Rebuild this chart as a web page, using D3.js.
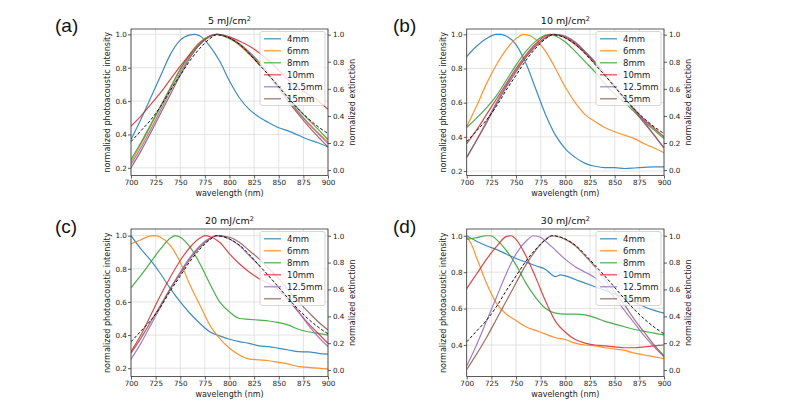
<!DOCTYPE html>
<html><head><meta charset="utf-8">
<script src="https://cdn.jsdelivr.net/npm/d3@7"></script>
<style>body{margin:0;background:#fff}svg{display:block}</style>
</head><body>
<svg id="chart" width="787" height="413"></svg>
<script>
// ---------- data ----------
const seriesNames = ["4mm","6mm","8mm","10mm","12.5mm","15mm"];
const seriesColors = ["#1f77b4","#ff7f0e","#2ca02c","#d62728","#9467bd","#8c564b"];
const xTicks = [700,725,750,775,800,825,850,875,900];
const leftTicksABC = [0.2,0.4,0.6,0.8,1.0];
const leftTicksD = [0.4,0.6,0.8,1.0];
const rightTicks = [0.0,0.2,0.4,0.6,0.8,1.0];
const fluences = ["5","10","20","30"];
const panelLabels = ["(a)","(b)","(c)","(d)"];

// normalized extinction (right axis), same in every panel
const extinction = [[700,0.21],[710,0.29],[720,0.37],[730,0.47],[740,0.59],[750,0.70],[760,0.81],[770,0.90],[780,0.97],[787,1.0],[795,0.99],[800,0.975],[810,0.93],[820,0.86],[830,0.78],[840,0.70],[850,0.615],[860,0.53],[870,0.45],[880,0.38],[890,0.32],[900,0.27]];

// (a) 5 mJ/cm2
const a_4mm = [[700,0.37],[710,0.49],[720,0.62],[730,0.75],[740,0.88],[750,0.965],[760,0.997],[765,1.0],[770,0.99],[780,0.93],[790,0.84],[800,0.72],[810,0.62],[820,0.55],[830,0.505],[840,0.47],[850,0.44],[860,0.42],[870,0.395],[880,0.37],[890,0.35],[900,0.325]];
const a_6mm = [[700,0.235],[710,0.34],[720,0.45],[730,0.565],[740,0.68],[750,0.79],[760,0.885],[770,0.955],[780,0.99],[787,1.0],[800,0.975],[810,0.935],[820,0.88],[830,0.82],[840,0.75],[850,0.675],[860,0.6],[870,0.53],[880,0.47],[890,0.41],[900,0.355]];
const a_8mm = [[700,0.25],[710,0.35],[720,0.46],[730,0.57],[740,0.68],[750,0.79],[760,0.88],[770,0.95],[780,0.99],[787,1.0],[800,0.975],[810,0.94],[820,0.89],[830,0.83],[840,0.76],[850,0.69],[860,0.62],[870,0.55],[880,0.49],[890,0.43],[900,0.37]];
const a_10mm = [[700,0.45],[710,0.51],[720,0.58],[730,0.65],[740,0.73],[750,0.81],[760,0.88],[770,0.94],[780,0.99],[787,1.0],[800,0.985],[810,0.96],[820,0.93],[830,0.89],[840,0.84],[850,0.785],[860,0.725],[870,0.68],[880,0.64],[890,0.6],[900,0.55]];
const a_12_5mm = [[700,0.22],[710,0.32],[720,0.43],[730,0.545],[740,0.66],[750,0.77],[760,0.87],[770,0.945],[780,0.99],[787,1.0],[800,0.98],[810,0.945],[820,0.895],[830,0.835],[840,0.765],[850,0.69],[860,0.61],[870,0.535],[880,0.465],[890,0.405],[900,0.345]];
const a_15mm = [[700,0.20],[710,0.30],[720,0.41],[730,0.525],[740,0.64],[750,0.755],[760,0.86],[770,0.94],[780,0.985],[787,1.0],[800,0.98],[810,0.94],[820,0.885],[830,0.82],[840,0.75],[850,0.675],[860,0.595],[870,0.52],[880,0.45],[890,0.385],[900,0.325]];

// (b) 10 mJ/cm2
const b_4mm = [[700,0.87],[710,0.93],[720,0.975],[730,1.0],[735,1.0],[740,0.99],[750,0.94],[760,0.83],[770,0.68],[780,0.53],[790,0.41],[800,0.33],[810,0.28],[820,0.245],[830,0.228],[840,0.22],[850,0.22],[860,0.215],[870,0.218],[880,0.222],[890,0.225],[900,0.225]];
const b_6mm = [[700,0.46],[710,0.58],[720,0.71],[730,0.82],[740,0.91],[750,0.975],[758,1.0],[765,0.99],[770,0.97],[780,0.9],[790,0.8],[800,0.69],[810,0.6],[820,0.53],[830,0.49],[840,0.455],[850,0.43],[860,0.41],[870,0.39],[880,0.36],[890,0.335],[900,0.307]];
const b_8mm = [[700,0.455],[710,0.51],[720,0.57],[730,0.64],[740,0.73],[750,0.82],[760,0.9],[770,0.96],[780,0.995],[785,1.0],[790,0.99],[800,0.955],[810,0.9],[820,0.84],[830,0.78],[840,0.71],[850,0.65],[860,0.6],[870,0.545],[880,0.49],[890,0.44],[900,0.39]];
const b_10mm = [[700,0.36],[710,0.44],[720,0.53],[730,0.62],[740,0.71],[750,0.8],[760,0.88],[770,0.945],[780,0.99],[787,1.0],[800,0.98],[810,0.94],[820,0.89],[830,0.83],[840,0.76],[850,0.69],[860,0.62],[870,0.56],[880,0.5],[890,0.45],[900,0.40]];
const b_12_5mm = [[700,0.28],[710,0.38],[720,0.49],[730,0.6],[740,0.7],[750,0.79],[760,0.87],[770,0.935],[780,0.98],[790,1.0],[800,0.99],[810,0.955],[820,0.9],[830,0.84],[840,0.77],[850,0.7],[860,0.63],[870,0.56],[880,0.49],[890,0.41],[900,0.335]];
const b_15mm = [[700,0.28],[710,0.38],[720,0.48],[730,0.59],[740,0.69],[750,0.78],[760,0.865],[770,0.93],[780,0.98],[788,1.0],[800,0.985],[810,0.95],[820,0.895],[830,0.835],[840,0.765],[850,0.695],[860,0.625],[870,0.555],[880,0.48],[890,0.41],[900,0.335]];

// (c) 20 mJ/cm2
const c_4mm = [[700,1.0],[710,0.92],[720,0.85],[730,0.77],[740,0.68],[750,0.6],[760,0.53],[770,0.47],[780,0.42],[790,0.395],[800,0.375],[810,0.36],[820,0.35],[830,0.335],[840,0.33],[850,0.32],[860,0.31],[870,0.3],[880,0.298],[890,0.29],[900,0.285]];
const c_6mm = [[700,0.95],[710,0.975],[720,0.998],[725,1.0],[730,0.99],[740,0.94],[750,0.84],[760,0.7],[770,0.58],[780,0.46],[790,0.38],[800,0.32],[810,0.28],[820,0.255],[830,0.25],[840,0.245],[850,0.235],[860,0.225],[870,0.21],[880,0.205],[890,0.2],[900,0.195]];
const c_8mm = [[700,0.685],[710,0.76],[720,0.84],[730,0.92],[740,0.985],[745,1.0],[750,0.99],[760,0.93],[770,0.83],[780,0.71],[790,0.6],[800,0.54],[810,0.5],[820,0.495],[830,0.49],[840,0.485],[850,0.475],[860,0.46],[870,0.435],[880,0.42],[890,0.41],[900,0.40]];
const c_10mm = [[700,0.30],[710,0.40],[720,0.52],[730,0.64],[740,0.75],[750,0.85],[760,0.93],[770,0.985],[775,1.0],[780,0.995],[790,0.96],[800,0.89],[810,0.83],[820,0.78],[830,0.74],[840,0.71],[850,0.67],[860,0.61],[870,0.54],[880,0.47],[890,0.41],[900,0.35]];
const c_12_5mm = [[700,0.255],[710,0.35],[720,0.46],[730,0.57],[740,0.68],[750,0.78],[760,0.87],[770,0.94],[780,0.985],[787,1.0],[800,0.98],[810,0.94],[820,0.88],[830,0.82],[840,0.75],[850,0.69],[860,0.61],[870,0.54],[880,0.46],[890,0.39],[900,0.33]];
const c_15mm = [[700,0.29],[710,0.38],[720,0.48],[730,0.58],[740,0.68],[750,0.77],[760,0.86],[770,0.93],[780,0.98],[787,1.0],[800,0.99],[810,0.96],[820,0.91],[830,0.86],[840,0.8],[850,0.74],[860,0.67],[870,0.6],[880,0.54],[890,0.48],[900,0.43]];

// (d) 30 mJ/cm2
const d_4mm = [[700,1.0],[710,0.97],[720,0.945],[730,0.925],[740,0.9],[750,0.875],[760,0.855],[770,0.835],[780,0.815],[790,0.775],[795,0.785],[800,0.78],[810,0.76],[820,0.74],[830,0.72],[840,0.7],[850,0.68],[860,0.66],[870,0.635],[880,0.61],[890,0.59],[900,0.575]];
const d_6mm = [[700,0.995],[705,0.95],[710,0.88],[720,0.74],[730,0.63],[740,0.57],[750,0.535],[760,0.5],[770,0.48],[780,0.46],[790,0.44],[800,0.43],[810,0.41],[820,0.40],[830,0.395],[840,0.385],[850,0.378],[860,0.37],[870,0.355],[880,0.345],[890,0.335],[900,0.325]];
const d_8mm = [[700,0.98],[710,0.99],[720,1.0],[725,1.0],[730,0.98],[740,0.92],[750,0.84],[760,0.74],[770,0.66],[780,0.6],[790,0.575],[800,0.57],[810,0.57],[820,0.565],[830,0.55],[840,0.53],[850,0.515],[860,0.5],[870,0.485],[880,0.475],[890,0.465],[900,0.455]];
const d_10mm = [[700,0.71],[710,0.79],[720,0.87],[730,0.94],[740,0.995],[745,1.0],[750,0.98],[760,0.89],[770,0.77],[780,0.64],[790,0.53],[800,0.47],[810,0.43],[820,0.41],[830,0.4],[840,0.395],[850,0.39],[860,0.385],[870,0.385],[880,0.39],[890,0.395],[900,0.40]];
const d_12_5mm = [[700,0.285],[710,0.4],[720,0.53],[730,0.66],[740,0.79],[750,0.9],[760,0.97],[768,1.0],[775,0.99],[780,0.97],[790,0.92],[800,0.87],[810,0.83],[820,0.8],[830,0.77],[840,0.72],[850,0.66],[860,0.59],[870,0.52],[880,0.45],[890,0.39],[900,0.335]];
const d_15mm = [[700,0.265],[710,0.35],[720,0.44],[730,0.54],[740,0.64],[750,0.74],[760,0.84],[770,0.92],[780,0.98],[786,1.0],[800,0.98],[810,0.945],[820,0.89],[830,0.83],[840,0.76],[850,0.69],[860,0.62],[870,0.54],[880,0.47],[890,0.4],[900,0.34]];

const panelSeries = [
  [a_4mm,a_6mm,a_8mm,a_10mm,a_12_5mm,a_15mm],
  [b_4mm,b_6mm,b_8mm,b_10mm,b_12_5mm,b_15mm],
  [c_4mm,c_6mm,c_8mm,c_10mm,c_12_5mm,c_15mm],
  [d_4mm,d_6mm,d_8mm,d_10mm,d_12_5mm,d_15mm]
];

// ---------- layout ----------
const layout = [
  {left:131, right:328, top:29, bottom:175.5, yDom:[0.154,1.032], y2Dom:[-0.04,1.042], yTicks:leftTicksABC, lx:55, ly:31.5},
  {left:466.7, right:664, top:29, bottom:175.5, yDom:[0.174,1.031], y2Dom:[-0.04,1.042], yTicks:leftTicksABC, lx:393, ly:31.5},
  {left:131, right:328, top:229, bottom:376.5, yDom:[0.15,1.04], y2Dom:[-0.048,1.05], yTicks:leftTicksABC, lx:55, ly:233},
  {left:466.7, right:664, top:229, bottom:376.5, yDom:[0.227,1.037], y2Dom:[-0.048,1.05], yTicks:leftTicksD, lx:393, ly:233}
];

const svg = d3.select("#chart");
const FONT = "DejaVu Sans, sans-serif";
const fmt = d3.format(".1f");

layout.forEach((p, pi) => {
  const x = d3.scaleLinear().domain([700,900]).range([p.left,p.right]);
  const y = d3.scaleLinear().domain(p.yDom).range([p.bottom,p.top]);
  const y2 = d3.scaleLinear().domain(p.y2Dom).range([p.bottom,p.top]);
  const g = svg.append("g");
  const clipId = "clip"+pi;
  svg.append("clipPath").attr("id",clipId).append("rect")
    .attr("x",p.left).attr("y",p.top).attr("width",p.right-p.left).attr("height",p.bottom-p.top);

  // grid
  g.append("g").selectAll("line").data(xTicks).join("line")
    .attr("x1",d=>x(d)).attr("x2",d=>x(d)).attr("y1",p.top).attr("y2",p.bottom)
    .attr("stroke","#dcdcdc").attr("stroke-width",0.8);
  g.append("g").selectAll("line").data(p.yTicks).join("line")
    .attr("x1",p.left).attr("x2",p.right).attr("y1",d=>y(d)).attr("y2",d=>y(d))
    .attr("stroke","#dcdcdc").attr("stroke-width",0.8);

  // series
  const line = d3.line().x(d=>x(d[0])).y(d=>y(d[1])).curve(d3.curveMonotoneX);
  g.append("g").attr("clip-path",`url(#${clipId})`)
    .selectAll("path").data(panelSeries[pi]).join("path")
    .attr("d",line).attr("fill","none")
    .attr("stroke",(d,i)=>seriesColors[i]).attr("stroke-width",1.2).attr("stroke-opacity",0.85);

  // legend
  const lw = 65, lh = 74;
  const lxb = p.right - 3 - lw, lyb = p.top + 2.5;
  const lg = g.append("g");
  lg.append("rect").attr("x",lxb).attr("y",lyb).attr("width",lw).attr("height",lh).attr("rx",2)
    .attr("fill","white").attr("fill-opacity",0.8).attr("stroke","#cccccc").attr("stroke-width",0.8);
  const items = lg.selectAll("g.item").data(seriesNames).join("g")
    .attr("transform",(d,i)=>`translate(${lxb},${lyb+7.3+i*12})`);
  items.append("line").attr("x1",4).attr("x2",21).attr("y1",0).attr("y2",0)
    .attr("stroke",(d,i)=>seriesColors[i]).attr("stroke-width",1.2).attr("stroke-opacity",0.85);
  items.append("text").attr("x",27).attr("dy","0.35em").text(d=>d)
    .attr("font-family",FONT).attr("font-size","8.5px").attr("fill","#222");

  // extinction (twin axis, on top)
  const line2 = d3.line().x(d=>x(d[0])).y(d=>y2(d[1])).curve(d3.curveMonotoneX);
  g.append("path").datum(extinction).attr("clip-path",`url(#${clipId})`)
    .attr("d",line2).attr("fill","none").attr("stroke","#111").attr("stroke-width",1)
    .attr("stroke-dasharray","3,2");

  // frame
  g.append("rect").attr("x",p.left).attr("y",p.top).attr("width",p.right-p.left).attr("height",p.bottom-p.top)
    .attr("fill","none").attr("stroke","#333").attr("stroke-width",0.8);

  // axes
  const styleAxis = sel => {
    sel.select(".domain").remove();
    sel.selectAll(".tick line").attr("stroke","#333").attr("stroke-width",0.8);
    sel.selectAll(".tick text").attr("font-family",FONT).attr("font-size","7.2px").attr("fill","#222");
  };
  g.append("g").attr("transform",`translate(0,${p.bottom})`)
    .call(d3.axisBottom(x).tickValues(xTicks).tickSize(3).tickPadding(1.5).tickFormat(d3.format("d")))
    .call(styleAxis);
  g.append("g").attr("transform",`translate(${p.left},0)`)
    .call(d3.axisLeft(y).tickValues(p.yTicks).tickSize(3).tickPadding(1.2).tickFormat(fmt))
    .call(styleAxis);
  g.append("g").attr("transform",`translate(${p.right},0)`)
    .call(d3.axisRight(y2).tickValues(rightTicks).tickSize(3).tickPadding(2).tickFormat(fmt))
    .call(styleAxis);

  // labels
  const midY = (p.top+p.bottom)/2, midX = (p.left+p.right)/2;
  g.append("text").attr("x",midX).attr("y",p.bottom+20.5).attr("text-anchor","middle")
    .attr("font-family",FONT).attr("font-size","8px").attr("fill","#222").text("wavelength (nm)");
  g.append("text").attr("transform",`translate(${p.left-24},${midY}) rotate(-90)`).attr("dy","0.35em")
    .attr("text-anchor","middle").attr("font-family",FONT).attr("font-size","8px").attr("fill","#222")
    .text("normalized photoacoustic intensity");
  g.append("text").attr("transform",`translate(${p.right+24},${midY}) rotate(-90)`).attr("dy","0.35em")
    .attr("text-anchor","middle").attr("font-family",FONT).attr("font-size","8px").attr("fill","#222")
    .text("normalized extinction");
  const t = g.append("text").attr("x",midX).attr("y",p.top-5).attr("text-anchor","middle")
    .attr("font-family",FONT).attr("font-size","9.5px").attr("fill","#111");
  t.append("tspan").text(fluences[pi]+" mJ/cm");
  t.append("tspan").attr("font-size","6.5px").attr("dy","-3.5").text("2");

  // panel label
  svg.append("text").attr("x",p.lx).attr("y",p.ly).attr("font-family","Liberation Sans, Arial, sans-serif")
    .attr("font-size","19px").attr("fill","#111").text(panelLabels[pi]);
});
</script>
</body></html>
